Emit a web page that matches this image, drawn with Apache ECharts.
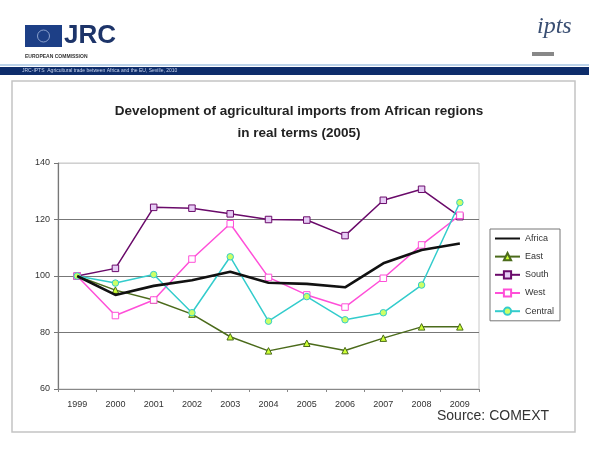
<!DOCTYPE html>
<html><head><meta charset="utf-8">
<script src="https://cdn.jsdelivr.net/npm/echarts@6/dist/echarts.min.js"></script>
<style>html,body{margin:0;padding:0;background:#fff}#c{width:589px;height:450px}</style>
</head><body><div id="c"></div>
<script>
const years = ['1999','2000','2001','2002','2003','2004','2005','2006','2007','2008','2009'];
const africa = [100, 93.3, 96.5, 98.5, 101.5, 97.6, 97.2, 96, 104.5, 109.2, 111.5];
const east = [100, 95, 91.5, 86.5, 78.5, 73.5, 76.2, 73.6, 78, 82, 82];
const south = [100, 102.7, 124.3, 124, 122, 120, 119.8, 114.3, 126.8, 130.7, 121];
const west = [100, 86, 91.5, 106, 118.5, 99.5, 93.3, 89, 99.2, 111, 121.5];
const central = [100, 97.5, 100.5, 87, 106.8, 84, 92.7, 84.5, 87, 96.8, 126];
const yTicks = {min: 60, max: 140, interval: 20};

const chart = echarts.init(document.getElementById('c'), null, {renderer: 'canvas'});
const font = 'Liberation Sans, Arial, sans-serif';
function s(name, data, color, width, symbol, fill, z) {
  const none = symbol === 'none';
  return {
    name, type: 'line', data, z: z || 2,
    symbol: none ? 'circle' : symbol, symbolSize: none ? 0 : 6.5, showSymbol: !none,
    lineStyle: {color, width},
    itemStyle: none ? {color: 'rgba(0,0,0,0)', borderWidth: 0} : {color: fill, borderColor: color, borderWidth: 1},
    emphasis: {disabled: true}, animation: false
  };
}
chart.setOption({
  backgroundColor: '#fff',
  animation: false,
  title: {
    text: 'Development of agricultural imports from African regions\nin real terms (2005)',
    left: 294, top: 95, textAlign: 'center',
    textStyle: {fontFamily: font, fontSize: 13.5, fontWeight: 'bold', color: '#222', lineHeight: 22}
  },
  grid: {left: 58, right: 110, top: 163, bottom: 61, show: true, borderColor: '#c8c8c8', borderWidth: 1},
  xAxis: {
    type: 'category', data: years, boundaryGap: true,
    axisLine: {lineStyle: {color: '#888', width: 1}},
    axisTick: {show: true, length: 3, lineStyle: {color: '#888'}},
    axisLabel: {fontFamily: font, fontSize: 9, color: '#333', margin: 11}
  },
  yAxis: {
    type: 'value', min: yTicks.min, max: yTicks.max, interval: yTicks.interval,
    axisLine: {show: true, lineStyle: {color: '#777', width: 1.2}},
    axisTick: {show: true, length: 4, inside: false, lineStyle: {color: '#777'}},
    axisLabel: {fontFamily: font, fontSize: 9, color: '#333', margin: 8},
    splitLine: {show: true, lineStyle: {color: ['#888', '#777', '#777', '#777', '#d0d0d0'], width: 1.2}}
  },
  legend: {
    orient: 'vertical', left: 490, top: 229,
    data: ['Africa', 'East', 'South', 'West', 'Central'],
    itemWidth: 25, itemHeight: 9, itemGap: 9,
    padding: [5, 6, 5, 4],
    borderColor: '#777', borderWidth: 1, backgroundColor: '#fff',
    textStyle: {fontFamily: font, fontSize: 9, color: '#333'}
  },
  series: [
    s('Africa', africa, '#111', 2.6, 'none', '#111', 5),
    s('East', east, '#4b6b1b', 1.5, 'triangle', '#ccff33', 3),
    s('South', south, '#6a0a6a', 1.5, 'rect', '#e6ccf5', 3),
    s('West', west, '#ff4fd8', 1.5, 'rect', '#ffffff', 3),
    s('Central', central, '#33cccc', 1.5, 'circle', '#ccff66', 3)
  ],
  graphic: [
    {type: 'rect', shape: {x: 12, y: 81, width: 563, height: 351}, style: {fill: 'none', stroke: '#c4c4c4', lineWidth: 1.5}, z: -1},
    {type: 'rect', shape: {x: 0, y: 64, width: 589, height: 2}, style: {fill: '#bcd3ea'}},
    {type: 'rect', shape: {x: 0, y: 67, width: 589, height: 8}, style: {fill: '#0e2d6b'}},
    {type: 'text', left: 22, top: 68, style: {text: 'JRC-IPTS  Agricultural trade between Africa and the EU, Seville, 2010', fontSize: 5, fill: '#c8d4ee', fontFamily: font}},
    {type: 'rect', shape: {x: 25, y: 25, width: 37, height: 22}, style: {fill: '#1d3f86'}},
    {type: 'circle', shape: {cx: 43.5, cy: 36, r: 6}, style: {fill: 'none', stroke: '#8aa0cc', lineWidth: 1}},
    {type: 'text', left: 64, top: 23, style: {text: 'JRC', fontSize: 26, fontWeight: 'bold', fill: '#1d3469', fontFamily: 'Liberation Sans Narrow, Liberation Sans, Arial, sans-serif'}},
    {type: 'text', left: 25, top: 54, style: {text: 'EUROPEAN COMMISSION', fontSize: 5, fontWeight: 'bold', fill: '#333', fontFamily: font}},
    {type: 'text', left: 537, top: 15, style: {text: 'ipts', fontSize: 24, fontStyle: 'italic', fill: '#3a4f73', fontFamily: 'Liberation Serif, serif'}},
    {type: 'rect', shape: {x: 532, y: 52, width: 22, height: 4}, style: {fill: '#888'}},
    {type: 'text', left: 437, top: 409, style: {text: 'Source: COMEXT', fontSize: 14, fill: '#333', fontFamily: font}}
  ]
});
</script></body></html>
